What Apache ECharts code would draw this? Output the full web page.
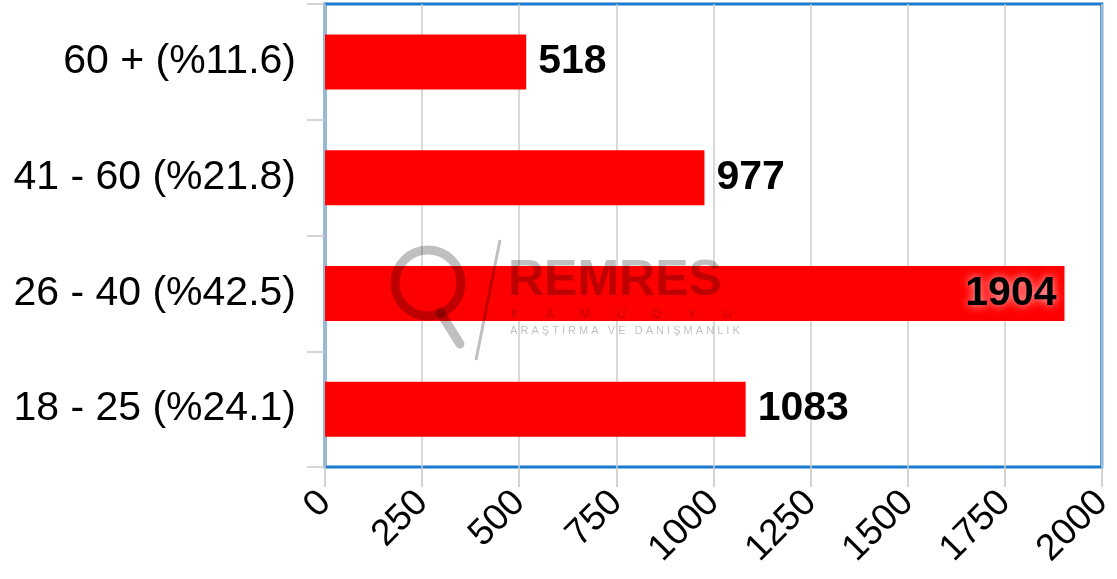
<!DOCTYPE html>
<html><head><meta charset="utf-8">
<script src="https://cdn.jsdelivr.net/npm/echarts@6/dist/echarts.min.js"></script>
<style>html,body{margin:0;padding:0;background:#fff}#c{width:1117px;height:579px}</style>
</head><body><div id="c"></div>
<script>
const categories = ['18 - 25 (%24.1)', '26 - 40 (%42.5)', '41 - 60 (%21.8)', '60 + (%11.6)'];
const values = [1083, 1904, 977, 518];
const insideLabel = [false, true, false, false];
const xTicks = {min: 0, max: 2000, interval: 250};

const chart = echarts.init(document.getElementById('c'));
const font = '"Liberation Sans", Arial, sans-serif';
const wm = 'rgba(0,0,0,0.25)';
chart.setOption({
  animation: false,
  backgroundColor: '#fff',
  grid: {left: 325, right: 9, top: 4, bottom: 112, show: true, backgroundColor: '#fff', borderColor: '#1a7ad0', borderWidth: 3},
  xAxis: {
    type: 'value', min: xTicks.min, max: xTicks.max, interval: xTicks.interval,
    axisLine: {show: false},
    axisTick: {show: true, length: 20, lineStyle: {color: '#c8c8c8', width: 1.5}},
    splitLine: {show: true, lineStyle: {color: '#cccccc', width: 1.5}},
    axisLabel: {rotate: 45, margin: 30, fontSize: 37, color: '#000', fontFamily: font, formatter: v => String(v)}
  },
  yAxis: {
    type: 'category', data: categories,
    axisLine: {show: false},
    axisTick: {show: true, length: 18, lineStyle: {color: '#c8c8c8', width: 1.5}},
    axisLabel: {margin: 29, fontSize: 41, color: '#000', fontFamily: font}
  },
  series: [{
    type: 'bar', barWidth: 55, z: 3,
    data: values.map((v, i) => ({
      value: v,
      label: insideLabel[i]
        ? {position: 'insideRight', distance: 8, textShadowColor: 'rgba(255,230,230,0.9)', textShadowBlur: 10}
        : {position: 'right', distance: 12}
    })),
    itemStyle: {color: '#ff0000'},
    label: {show: true, fontSize: 41, fontWeight: 'bold', color: '#000', fontFamily: font}
  }],
  graphic: [
    {type: 'circle', z: 10, shape: {cx: 428, cy: 283, r: 33}, style: {fill: 'none', stroke: wm, lineWidth: 9}},
    {type: 'line', z: 10, shape: {x1: 440, y1: 312, x2: 460, y2: 344}, style: {stroke: wm, lineWidth: 9, lineCap: 'round'}},
    {type: 'line', z: 10, shape: {x1: 500, y1: 240, x2: 476, y2: 360}, style: {stroke: wm, lineWidth: 3}},
    {type: 'text', z: 10, left: 508, top: 256, style: {text: 'REMRES', font: 'bold 50px ' + font, fill: wm}},
    {type: 'text', z: 10, left: 511, top: 309, style: {text: 'K        A        M        U        O        Y        U', font: '12px ' + font, fill: wm}},
    {type: 'text', z: 10, left: 510, top: 325, style: {text: 'A R A Ş T I R M A   V E   D A N I Ş M A N L I K', font: '11px ' + font, fill: wm}}
  ]
});
</script></body></html>
